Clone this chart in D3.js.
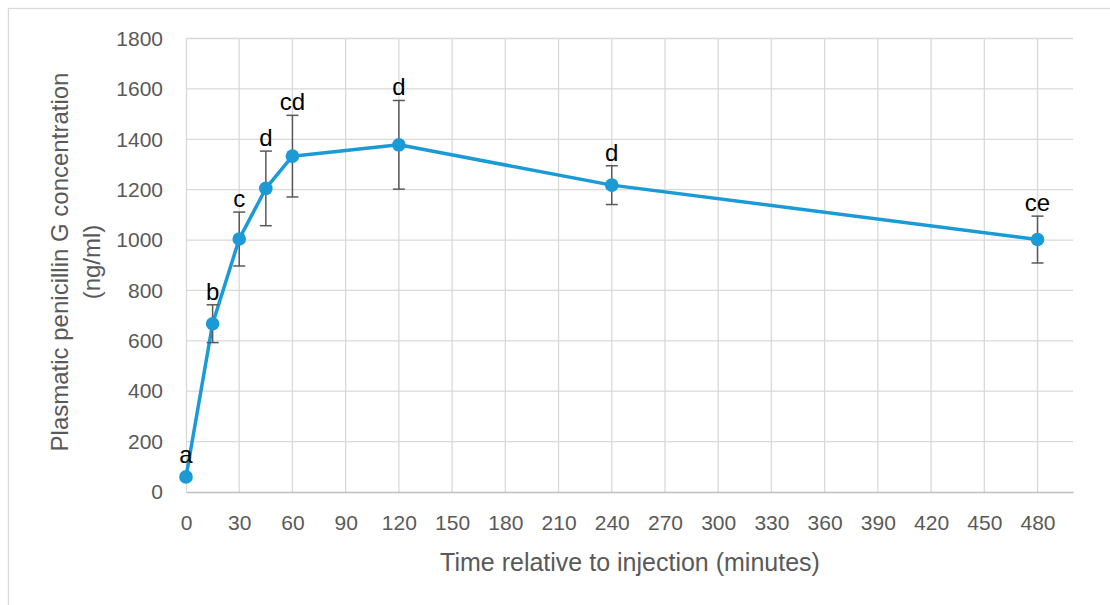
<!DOCTYPE html>
<html>
<head>
<meta charset="utf-8">
<script src="https://cdnjs.cloudflare.com/ajax/libs/d3/7.8.5/d3.min.js"></script>
<style>
  body { margin: 0; background: #fff; }
  svg { display: block; font-family: "Liberation Sans", Arial, sans-serif; }
</style>
</head>
<body>
<script>
// data
var times = [0, 15, 30, 45, 60, 120, 240, 480];
var conc = [60, 668, 1004, 1205, 1333, 1378, 1218, 1002];
var errs = [10, 75, 107, 148, 162, 176, 77, 93];
var letters = ["a", "b", "c", "d", "cd", "d", "d", "ce"];
var xTicks = d3.range(0, 481, 30);
var yTicks = d3.range(0, 1801, 200);

var width = 1110,
  height = 605;
var margin = { left: 186, right: 37, top: 38.5, bottom: 113 };

var svg = d3.select("body").append("svg")
  .attr("width", width)
  .attr("height", height);

// chart frame
svg.append("rect")
  .attr("x", 8.5).attr("y", 8.5)
  .attr("width", width).attr("height", height)
  .attr("fill", "none")
  .attr("stroke", "#d9d9d9")
  .attr("stroke-width", 1.3);

var x = d3.scaleLinear()
  .domain([0, 500])
  .range([margin.left, width - margin.right]);

var y = d3.scaleLinear()
  .domain([0, 1800])
  .range([height - margin.bottom, margin.top]);

// gridlines
svg.append("g")
  .selectAll("line")
  .data(yTicks.slice(1))
  .enter().append("line")
    .attr("x1", x(0)).attr("x2", x(500))
    .attr("y1", function(d) { return y(d); })
    .attr("y2", function(d) { return y(d); })
    .attr("stroke", "#d9d9d9")
    .attr("stroke-width", 1.3);

svg.append("g")
  .selectAll("line")
  .data(xTicks.slice(1))
  .enter().append("line")
    .attr("x1", function(d) { return x(d); })
    .attr("x2", function(d) { return x(d); })
    .attr("y1", y(0)).attr("y2", y(1800))
    .attr("stroke", "#d9d9d9")
    .attr("stroke-width", 1.3);

// axes
var xAxis = svg.append("g")
  .attr("transform", "translate(0," + y(0) + ")")
  .call(d3.axisBottom(x).tickValues(xTicks).tickSize(0).tickPadding(23));

var yAxis = svg.append("g")
  .attr("transform", "translate(" + x(0) + ",0)")
  .call(d3.axisLeft(y).tickValues(yTicks).tickFormat(d3.format("d")).tickSize(0).tickPadding(23));

[xAxis, yAxis].forEach(function(a) {
  a.select(".domain").attr("stroke", "#bfbfbf").attr("stroke-width", 1.5);
  a.selectAll("text")
    .attr("fill", "#595959")
    .style("font-size", "21px")
    .style("font-family", "\"Liberation Sans\", Arial, sans-serif");
});
yAxis.select(".domain").attr("stroke", "#d9d9d9").attr("stroke-width", 1.3);

// axis titles
svg.append("text")
  .attr("x", 630)
  .attr("y", 571)
  .attr("text-anchor", "middle")
  .attr("fill", "#595959")
  .style("font-size", "25px")
  .text("Time relative to injection (minutes)");

var yt = svg.append("text")
  .attr("transform", "translate(0,262) rotate(-90)")
  .attr("text-anchor", "middle")
  .attr("fill", "#595959")
  .style("font-size", "24px");
yt.append("tspan").attr("x", 0).attr("y", 68).text("Plasmatic penicillin G concentration");
yt.append("tspan").attr("x", 0).attr("y", 100).text("(ng/ml)");

var pts = times.map(function(t, i) {
  return { t: t, v: conc[i], e: errs[i], lab: letters[i] };
});

// series line
var line = d3.line()
  .x(function(d) { return x(d.t); })
  .y(function(d) { return y(d.v); });

svg.append("path")
  .datum(pts)
  .attr("d", line)
  .attr("fill", "none")
  .attr("stroke", "#1b9ad6")
  .attr("stroke-width", 3.5)
  .attr("stroke-linejoin", "round");

// error bars
var eb = svg.append("g")
  .attr("stroke", "#595959")
  .attr("stroke-width", 1.5);

eb.selectAll(".stem")
  .data(pts)
  .enter().append("line")
    .attr("x1", function(d) { return x(d.t); })
    .attr("x2", function(d) { return x(d.t); })
    .attr("y1", function(d) { return y(d.v - d.e); })
    .attr("y2", function(d) { return y(d.v + d.e); });

eb.selectAll(".capTop")
  .data(pts)
  .enter().append("line")
    .attr("x1", function(d) { return x(d.t) - 6; })
    .attr("x2", function(d) { return x(d.t) + 6; })
    .attr("y1", function(d) { return y(d.v + d.e); })
    .attr("y2", function(d) { return y(d.v + d.e); });

eb.selectAll(".capBot")
  .data(pts)
  .enter().append("line")
    .attr("x1", function(d) { return x(d.t) - 6; })
    .attr("x2", function(d) { return x(d.t) + 6; })
    .attr("y1", function(d) { return y(d.v - d.e); })
    .attr("y2", function(d) { return y(d.v - d.e); });

// markers
svg.append("g")
  .selectAll("circle")
  .data(pts)
  .enter().append("circle")
    .attr("cx", function(d) { return x(d.t); })
    .attr("cy", function(d) { return y(d.v); })
    .attr("r", 6.8)
    .attr("fill", "#1b9ad6");

// letter labels
svg.append("g")
  .selectAll("text")
  .data(pts)
  .enter().append("text")
    .attr("x", function(d) { return x(d.t); })
    .attr("y", function(d) { return Math.min(y(d.v + d.e), y(d.v) - 9) - 5; })
    .attr("text-anchor", "middle")
    .attr("fill", "#000")
    .style("font-size", "24px")
    .text(function(d) { return d.lab; });
</script>
</body>
</html>
